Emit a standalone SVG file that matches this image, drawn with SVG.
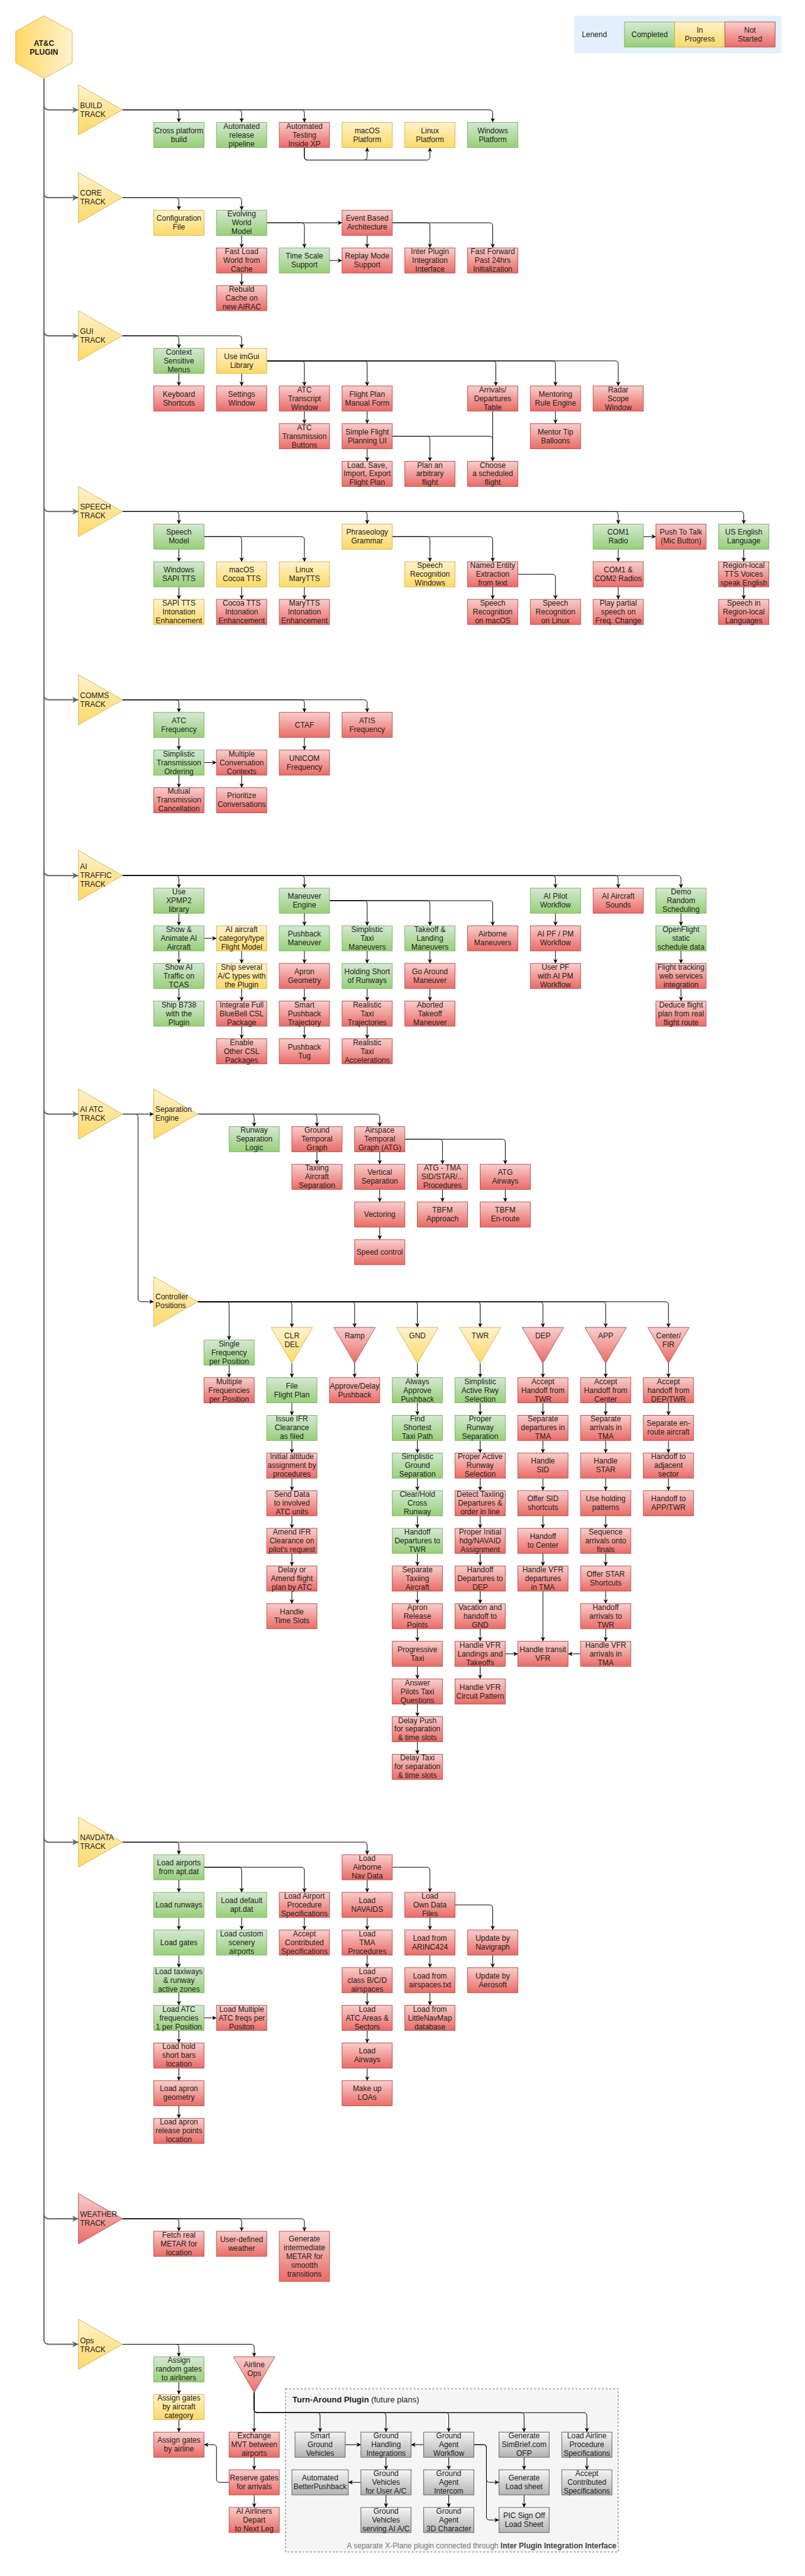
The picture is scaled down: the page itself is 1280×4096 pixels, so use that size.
<svg xmlns="http://www.w3.org/2000/svg" width="1280" height="4096" viewBox="0 0 1280 4096">
<defs>
<linearGradient id="gG" x1="0" y1="0" x2="0" y2="1"><stop offset="0" stop-color="#d5e8d4"/><stop offset="1" stop-color="#97d077"/></linearGradient>
<linearGradient id="gY" x1="0" y1="0" x2="0" y2="1"><stop offset="0" stop-color="#fff2cc"/><stop offset="1" stop-color="#ffd966"/></linearGradient>
<linearGradient id="gR" x1="0" y1="0" x2="0" y2="1"><stop offset="0" stop-color="#f8cecc"/><stop offset="1" stop-color="#ea6b66"/></linearGradient>
<linearGradient id="gK" x1="0" y1="0" x2="0" y2="1"><stop offset="0" stop-color="#f5f5f5"/><stop offset="1" stop-color="#b3b3b3"/></linearGradient>
<linearGradient id="gH" x1="0" y1="0" x2="1" y2="0"><stop offset="0" stop-color="#ffd966"/><stop offset="1" stop-color="#fff2cc"/></linearGradient>
<marker id="a" markerWidth="8" markerHeight="8" refX="7" refY="4" orient="auto" markerUnits="userSpaceOnUse" viewBox="0 0 8 8"><path d="M0,0.5 L7,4 L0,7.5 L2,4 z" fill="#000"/></marker>
<marker id="ag" markerWidth="11" markerHeight="10" refX="10" refY="5" orient="auto" markerUnits="userSpaceOnUse" viewBox="0 0 11 10"><path d="M0,0 L10,5 L0,10 L3,5 z" fill="#666"/></marker>
<style>
text{font-family:"Liberation Sans",Arial,Helvetica,sans-serif;font-size:12px;fill:#222;text-anchor:middle}
.l{text-anchor:start}
.b{font-weight:bold}
.g{fill:url(#gG);stroke:#82b366}
.y{fill:url(#gY);stroke:#d6b656}
.r{fill:url(#gR);stroke:#b85450}
.k{fill:url(#gK);stroke:#666}
.c path{fill:none;stroke:#000;stroke-width:1;marker-end:url(#a)}
.t path{fill:none;stroke:#666;stroke-width:2;marker-end:url(#ag)}
</style>
</defs>
<rect x="0" y="0" width="1280" height="4096" fill="#fff"/>
<g transform="scale(0.998)">

<g id="legend"><rect x="915" y="25" width="330" height="60" fill="#e3f0fb"/><text class="l" x="927" y="59">Lenend</text><rect class="g" x="995" y="35" width="80" height="40"/><text x="1035" y="59">Completed</text><rect class="y" x="1075" y="35" width="80" height="40"/><text x="1115" y="52">In<tspan x="1115" dy="14">Progress</tspan></text><rect class="r" x="1155" y="35" width="80" height="40"/><text x="1195" y="52">Not<tspan x="1195" dy="14">Started</tspan></text></g>

<g id="turnaround-container"><rect x="455" y="3806" width="530" height="260" fill="#f5f5f5" stroke="#666" stroke-dasharray="3,3"/><text class="l" x="466" y="3828" style="font-size:13px"><tspan class="b">Turn-Around Plugin</tspan> (future plans)</text><text x="982" y="4060" style="text-anchor:end;fill:#777">A separate X-Plane plugin connected through <tspan class="b" style="fill:#444">Inter Plugin Integration Interface</tspan></text></g>

<g id="trunk" class="t">
<path d="M70,125V3727Q70,3735 78,3735H125"/>
<path d="M70,167Q70,175 78,175H125"/>
<path d="M70,307Q70,315 78,315H125"/>
<path d="M70,527Q70,535 78,535H125"/>
<path d="M70,807Q70,815 78,815H125"/>
<path d="M70,1107Q70,1115 78,1115H125"/>
<path d="M70,1387Q70,1395 78,1395H125"/>
<path d="M70,1767Q70,1775 78,1775H125"/>
<path d="M70,2927Q70,2935 78,2935H125"/>
<path d="M70,3527Q70,3535 78,3535H125"/>
</g>

<g id="connectors" class="c">
<path d="M195,175H280Q285,175 285,180V195"/>
<path d="M195,175H380Q385,175 385,180V195"/>
<path d="M195,175H480Q485,175 485,180V195"/>
<path d="M195,175H780Q785,175 785,180V195"/>
<path d="M485,235V250Q485,255 490,255H580Q585,255 585,250V235"/>
<path d="M485,235V250Q485,255 490,255H680Q685,255 685,250V235"/>

<path d="M195,315H280Q285,315 285,320V335"/>
<path d="M195,315H380Q385,315 385,320V335"/>
<path d="M385,375V395"/>
<path d="M385,435V455"/>
<path d="M425,355H545"/>
<path d="M425,355H480Q485,355 485,360V395"/>
<path d="M525,415H545"/>
<path d="M585,375V395"/>
<path d="M625,355H680Q685,355 685,360V395"/>
<path d="M625,355H780Q785,355 785,360V395"/>

<path d="M195,535H280Q285,535 285,540V555"/>
<path d="M195,535H380Q385,535 385,540V555"/>
<path d="M285,595V615"/>
<path d="M385,595V615"/>
<path d="M425,575H480Q485,575 485,580V615"/>
<path d="M425,575H580Q585,575 585,580V615"/>
<path d="M425,575H785Q790,575 790,580V615"/>
<path d="M425,575H880Q885,575 885,580V615"/>
<path d="M425,575H980Q985,575 985,580V615"/>
<path d="M485,655V675"/>
<path d="M585,655V675"/>
<path d="M885,655V675"/>
<path d="M585,715V735"/>
<path d="M625,695H680Q685,695 685,700V735"/>
<path d="M625,695H780Q785,695 785,700V735"/>
<path d="M785,655V735"/>

<path d="M195,815H280Q285,815 285,820V835"/>
<path d="M195,815H580Q585,815 585,820V835"/>
<path d="M195,815H980Q985,815 985,820V835"/>
<path d="M195,815H1180Q1185,815 1185,820V835"/>
<path d="M285,875V895"/>
<path d="M285,935V955"/>
<path d="M325,855H380Q385,855 385,860V895"/>
<path d="M325,855H480Q485,855 485,860V895"/>
<path d="M385,935V955"/>
<path d="M485,935V955"/>
<path d="M625,855H680Q685,855 685,860V895"/>
<path d="M625,855H780Q785,855 785,860V895"/>
<path d="M785,935V955"/>
<path d="M825,915H880Q885,915 885,920V955"/>
<path d="M1025,855H1045"/>
<path d="M985,875V895"/>
<path d="M985,935V955"/>
<path d="M1185,875V895"/>
<path d="M1185,935V955"/>

<path d="M195,1115H280Q285,1115 285,1120V1135"/>
<path d="M195,1115H480Q485,1115 485,1120V1135"/>
<path d="M195,1115H580Q585,1115 585,1120V1135"/>
<path d="M285,1175V1195"/>
<path d="M285,1235V1255"/>
<path d="M325,1215H345"/>
<path d="M385,1235V1255"/>
<path d="M485,1175V1195"/>

<path d="M195,1395H280Q285,1395 285,1400V1415"/>
<path d="M195,1395H480Q485,1395 485,1400V1415"/>
<path d="M195,1395H880Q885,1395 885,1400V1415"/>
<path d="M195,1395H980Q985,1395 985,1400V1415"/>
<path d="M195,1395H1080Q1085,1395 1085,1400V1415"/>
<path d="M285,1455V1475"/><path d="M285,1515V1535"/><path d="M285,1575V1595"/>
<path d="M325,1495H345"/>
<path d="M385,1515V1535"/><path d="M385,1575V1595"/><path d="M385,1635V1655"/>
<path d="M485,1455V1475"/><path d="M485,1515V1535"/><path d="M485,1575V1595"/><path d="M485,1635V1655"/>
<path d="M525,1435H580Q585,1435 585,1440V1475"/>
<path d="M525,1435H680Q685,1435 685,1440V1475"/>
<path d="M525,1435H780Q785,1435 785,1440V1475"/>
<path d="M585,1515V1535"/><path d="M585,1575V1595"/><path d="M585,1635V1655"/>
<path d="M685,1515V1535"/><path d="M685,1575V1595"/>
<path d="M885,1455V1475"/><path d="M885,1515V1535"/>
<path d="M1085,1455V1475"/><path d="M1085,1515V1535"/><path d="M1085,1575V1595"/>

<path d="M195,1775H245"/>
<path d="M195,1775H215Q220,1775 220,1780V2069Q220,2074 225,2074H245"/>
<path d="M315,1775H400Q405,1775 405,1780V1795"/>
<path d="M315,1775H500Q505,1775 505,1780V1795"/>
<path d="M315,1775H600Q605,1775 605,1780V1795"/>
<path d="M505,1835V1855"/>
<path d="M605,1835V1855"/><path d="M605,1895V1915"/><path d="M605,1955V1975"/>
<path d="M645,1815H700Q705,1815 705,1820V1855"/>
<path d="M645,1815H800Q805,1815 805,1820V1855"/>
<path d="M705,1895V1915"/>
<path d="M805,1895V1915"/>

<path d="M315,2074H360Q365,2074 365,2079V2135"/>
<path d="M315,2074H460Q465,2074 465,2079V2115"/>
<path d="M315,2074H560Q565,2074 565,2079V2115"/>
<path d="M315,2074H660Q665,2074 665,2079V2115"/>
<path d="M315,2074H760Q765,2074 765,2079V2115"/>
<path d="M315,2074H860Q865,2074 865,2079V2115"/>
<path d="M315,2074H960Q965,2074 965,2079V2115"/>
<path d="M315,2074H1060Q1065,2074 1065,2079V2115"/>
<path d="M365,2175V2195"/>
<path d="M465,2172V2195"/><path d="M565,2172V2195"/><path d="M665,2172V2195"/><path d="M765,2172V2195"/><path d="M865,2172V2195"/><path d="M965,2172V2195"/><path d="M1065,2172V2195"/>
<path d="M465,2235V2255"/><path d="M465,2295V2315"/><path d="M465,2355V2375"/><path d="M465,2415V2435"/><path d="M465,2475V2495"/><path d="M465,2535V2555"/>
<path d="M665,2235V2255"/><path d="M665,2295V2315"/><path d="M665,2355V2375"/><path d="M665,2415V2435"/><path d="M665,2475V2495"/><path d="M665,2535V2555"/><path d="M665,2595V2615"/><path d="M665,2655V2675"/><path d="M665,2715V2735"/><path d="M665,2775V2795"/>
<path d="M765,2235V2255"/><path d="M765,2295V2315"/><path d="M765,2355V2375"/><path d="M765,2415V2435"/><path d="M765,2475V2495"/><path d="M765,2535V2555"/><path d="M765,2595V2615"/><path d="M765,2655V2675"/>
<path d="M865,2235V2255"/><path d="M865,2295V2315"/><path d="M865,2355V2375"/><path d="M865,2415V2435"/><path d="M865,2475V2495"/><path d="M865,2535V2615"/>
<path d="M965,2235V2255"/><path d="M965,2295V2315"/><path d="M965,2355V2375"/><path d="M965,2415V2435"/><path d="M965,2475V2495"/><path d="M965,2535V2555"/><path d="M965,2595V2615"/>
<path d="M1065,2235V2255"/><path d="M1065,2295V2315"/><path d="M1065,2355V2375"/>
<path d="M805,2635H825"/>
<path d="M925,2635H905"/>

<path d="M195,2935H280Q285,2935 285,2940V2955"/>
<path d="M195,2935H580Q585,2935 585,2940V2955"/>
<path d="M285,2995V3015"/><path d="M285,3055V3075"/><path d="M285,3115V3135"/><path d="M285,3175V3195"/><path d="M285,3235V3255"/><path d="M285,3295V3315"/><path d="M285,3355V3375"/>
<path d="M325,3215H345"/>
<path d="M325,2975H380Q385,2975 385,2980V3015"/>
<path d="M325,2975H480Q485,2975 485,2980V3015"/>
<path d="M385,3055V3075"/>
<path d="M485,3055V3075"/>
<path d="M585,2995V3015"/><path d="M585,3055V3075"/><path d="M585,3115V3135"/><path d="M585,3175V3195"/><path d="M585,3235V3255"/><path d="M585,3295V3315"/>
<path d="M625,2975H680Q685,2975 685,2980V3015"/>
<path d="M685,3055V3075"/><path d="M685,3115V3135"/><path d="M685,3175V3195"/>
<path d="M725,3035H780Q785,3035 785,3040V3075"/>
<path d="M785,3115V3135"/>

<path d="M195,3535H280Q285,3535 285,3540V3555"/>
<path d="M195,3535H380Q385,3535 385,3540V3555"/>
<path d="M195,3535H480Q485,3535 485,3540V3555"/>

<path d="M195,3735H280Q285,3735 285,3740V3755"/>
<path d="M195,3735H400Q405,3735 405,3740V3755"/>
<path d="M285,3795V3815"/><path d="M285,3855V3875"/>
<path d="M405,3812V3875"/>
<path d="M405,3915V3935"/><path d="M405,3975V3995"/>
<path d="M365,3955H350Q345,3955 345,3950V3900Q345,3895 340,3895H325"/>
<path d="M405,3812V3839Q405,3844 410,3844H505Q510,3844 510,3849V3875"/>
<path d="M405,3812V3839Q405,3844 410,3844H610Q615,3844 615,3849V3875"/>
<path d="M405,3812V3839Q405,3844 410,3844H710Q715,3844 715,3849V3875"/>
<path d="M405,3812V3839Q405,3844 410,3844H830Q835,3844 835,3849V3875"/>
<path d="M405,3812V3839Q405,3844 410,3844H930Q935,3844 935,3849V3875"/>
<path d="M550,3895H575"/>
<path d="M675,3895H655"/>
<path d="M615,3915V3935"/><path d="M615,3975V3995"/>
<path d="M575,3955H555"/>
<path d="M715,3915V3935"/><path d="M715,3975V3995"/>
<path d="M755,3895H770Q775,3895 775,3900V3950Q775,3955 780,3955H795"/>
<path d="M755,3895H770Q775,3895 775,3900V4010Q775,4015 780,4015H795"/>
<path d="M835,3915V3935"/><path d="M835,3975V3995"/>
<path d="M935,3915V3935"/>
</g>

<g id="n_plugin"><polygon points="70,25 115,50 115,100 70,125 25,100 25,50" fill="url(#gH)" stroke="#d6b656"/><text class="b" x="70" y="73">AT&amp;C<tspan x="70" dy="14">PLUGIN</tspan></text></g>

<g id="t_build"><polygon class="y" points="125,135 195,175 125,215"/><text class="l" x="127.5" y="172">BUILD<tspan x="127.5" dy="14">TRACK</tspan></text></g>
<g id="t_core"><polygon class="y" points="125,275 195,315 125,355"/><text class="l" x="127.5" y="312">CORE<tspan x="127.5" dy="14">TRACK</tspan></text></g>
<g id="t_gui"><polygon class="y" points="125,495 195,535 125,575"/><text class="l" x="127.5" y="532">GUI<tspan x="127.5" dy="14">TRACK</tspan></text></g>
<g id="t_speech"><polygon class="y" points="125,775 195,815 125,855"/><text class="l" x="127.5" y="812">SPEECH<tspan x="127.5" dy="14">TRACK</tspan></text></g>
<g id="t_comms"><polygon class="y" points="125,1075 195,1115 125,1155"/><text class="l" x="127.5" y="1112">COMMS<tspan x="127.5" dy="14">TRACK</tspan></text></g>
<g id="t_aitraffic"><polygon class="y" points="125,1355 195,1395 125,1435"/><text class="l" x="127.5" y="1385">AI<tspan x="127.5" dy="14">TRAFFIC</tspan><tspan x="127.5" dy="14">TRACK</tspan></text></g>
<g id="t_aiatc"><polygon class="y" points="125,1735 195,1775 125,1815"/><text class="l" x="127.5" y="1772">AI ATC<tspan x="127.5" dy="14">TRACK</tspan></text></g>
<g id="t_navdata"><polygon class="y" points="125,2895 195,2935 125,2975"/><text class="l" x="127.5" y="2932">NAVDATA<tspan x="127.5" dy="14">TRACK</tspan></text></g>
<g id="t_weather"><polygon class="r" points="125,3495 195,3535 125,3575"/><text class="l" x="127.5" y="3532">WEATHER<tspan x="127.5" dy="14">TRACK</tspan></text></g>
<g id="t_ops"><polygon class="y" points="125,3695 195,3735 125,3775"/><text class="l" x="127.5" y="3733">Ops<tspan x="127.5" dy="14">TRACK</tspan></text></g>
<g id="t_sepengine"><polygon class="y" points="245,1735 315,1775 245,1815"/><text class="l" x="247.5" y="1772">Separation<tspan x="247.5" dy="14">Engine</tspan></text></g>
<g id="t_ctrlpos"><polygon class="y" points="245,2034 315,2074 245,2114"/><text class="l" x="247.5" y="2070">Controller<tspan x="247.5" dy="14">Positions</tspan></text></g>

<g id="n_cross"><rect class="g" x="245" y="195" width="80" height="40"/><text x="285" y="212">Cross platform<tspan x="285" dy="14">build</tspan></text></g>
<g id="n_release"><rect class="g" x="345" y="195" width="80" height="40"/><text x="385" y="205">Automated<tspan x="385" dy="14">release</tspan><tspan x="385" dy="14">pipeline</tspan></text></g>
<g id="n_testing"><rect class="r" x="445" y="195" width="80" height="40"/><text x="485" y="205">Automated<tspan x="485" dy="14">Testing</tspan><tspan x="485" dy="14">Inside XP</tspan></text></g>
<g id="n_macos"><rect class="y" x="545" y="195" width="80" height="40"/><text x="585" y="212">macOS<tspan x="585" dy="14">Platform</tspan></text></g>
<g id="n_linux"><rect class="y" x="645" y="195" width="80" height="40"/><text x="685" y="212">Linux<tspan x="685" dy="14">Platform</tspan></text></g>
<g id="n_windows"><rect class="g" x="745" y="195" width="80" height="40"/><text x="785" y="212">Windows<tspan x="785" dy="14">Platform</tspan></text></g>

<g id="n_config"><rect class="y" x="245" y="335" width="80" height="40"/><text x="285" y="352">Configuration<tspan x="285" dy="14">File</tspan></text></g>
<g id="n_world"><rect class="g" x="345" y="335" width="80" height="40"/><text x="385" y="345">Evolving<tspan x="385" dy="14">World</tspan><tspan x="385" dy="14">Model</tspan></text></g>
<g id="n_fastload"><rect class="r" x="345" y="395" width="80" height="40"/><text x="385" y="405">Fast Load<tspan x="385" dy="14">World from</tspan><tspan x="385" dy="14">Cache</tspan></text></g>
<g id="n_rebuild"><rect class="r" x="345" y="455" width="80" height="40"/><text x="385" y="465">Rebuild<tspan x="385" dy="14">Cache on</tspan><tspan x="385" dy="14">new AIRAC</tspan></text></g>
<g id="n_timescale"><rect class="g" x="445" y="395" width="80" height="40"/><text x="485" y="412">Time Scale<tspan x="485" dy="14">Support</tspan></text></g>
<g id="n_event"><rect class="r" x="545" y="335" width="80" height="40"/><text x="585" y="352">Event Based<tspan x="585" dy="14">Architecture</tspan></text></g>
<g id="n_replay"><rect class="r" x="545" y="395" width="80" height="40"/><text x="585" y="412">Replay Mode<tspan x="585" dy="14">Support</tspan></text></g>
<g id="n_interplugin"><rect class="r" x="645" y="395" width="80" height="40"/><text x="685" y="405">Inter Plugin<tspan x="685" dy="14">Integration</tspan><tspan x="685" dy="14">Interface</tspan></text></g>
<g id="n_fastfwd"><rect class="r" x="745" y="395" width="80" height="40"/><text x="785" y="405">Fast Forward<tspan x="785" dy="14">Past 24hrs</tspan><tspan x="785" dy="14">Initialization</tspan></text></g>

<g id="n_context"><rect class="g" x="245" y="555" width="80" height="40"/><text x="285" y="565">Context<tspan x="285" dy="14">Sensitive</tspan><tspan x="285" dy="14">Menus</tspan></text></g>
<g id="n_imgui"><rect class="y" x="345" y="555" width="80" height="40"/><text x="385" y="572">Use imGui<tspan x="385" dy="14">Library</tspan></text></g>
<g id="n_keyboard"><rect class="r" x="245" y="615" width="80" height="40"/><text x="285" y="632">Keyboard<tspan x="285" dy="14">Shortcuts</tspan></text></g>
<g id="n_settings"><rect class="r" x="345" y="615" width="80" height="40"/><text x="385" y="632">Settings<tspan x="385" dy="14">Window</tspan></text></g>
<g id="n_transcript"><rect class="r" x="445" y="615" width="80" height="40"/><text x="485" y="625">ATC<tspan x="485" dy="14">Transcript</tspan><tspan x="485" dy="14">Window</tspan></text></g>
<g id="n_fpform"><rect class="r" x="545" y="615" width="80" height="40"/><text x="585" y="632">Flight Plan<tspan x="585" dy="14">Manual Form</tspan></text></g>
<g id="n_arrdep"><rect class="r" x="745" y="615" width="80" height="40"/><text x="785" y="625">Arrivals/<tspan x="785" dy="14">Departures</tspan><tspan x="785" dy="14">Table</tspan></text></g>
<g id="n_mentoring"><rect class="r" x="845" y="615" width="80" height="40"/><text x="885" y="632">Mentoring<tspan x="885" dy="14">Rule Engine</tspan></text></g>
<g id="n_radar"><rect class="r" x="945" y="615" width="80" height="40"/><text x="985" y="625">Radar<tspan x="985" dy="14">Scope</tspan><tspan x="985" dy="14">Window</tspan></text></g>
<g id="n_txbuttons"><rect class="r" x="445" y="675" width="80" height="40"/><text x="485" y="685">ATC<tspan x="485" dy="14">Transmission</tspan><tspan x="485" dy="14">Buttons</tspan></text></g>
<g id="n_simplefp"><rect class="r" x="545" y="675" width="80" height="40"/><text x="585" y="692">Simple Flight<tspan x="585" dy="14">Planning UI</tspan></text></g>
<g id="n_mentortip"><rect class="r" x="845" y="675" width="80" height="40"/><text x="885" y="692">Mentor Tip<tspan x="885" dy="14">Balloons</tspan></text></g>
<g id="n_loadsave"><rect class="r" x="545" y="735" width="80" height="40"/><text x="585" y="745">Load, Save,<tspan x="585" dy="14">Import, Export</tspan><tspan x="585" dy="14">Flight Plan</tspan></text></g>
<g id="n_arbitrary"><rect class="r" x="645" y="735" width="80" height="40"/><text x="685" y="745">Plan an<tspan x="685" dy="14">arbitrary</tspan><tspan x="685" dy="14">flight</tspan></text></g>
<g id="n_scheduled"><rect class="r" x="745" y="735" width="80" height="40"/><text x="785" y="745">Choose<tspan x="785" dy="14">a scheduled</tspan><tspan x="785" dy="14">flight</tspan></text></g>

<g id="n_speechmodel"><rect class="g" x="245" y="835" width="80" height="40"/><text x="285" y="852">Speech<tspan x="285" dy="14">Model</tspan></text></g>
<g id="n_sapi"><rect class="g" x="245" y="895" width="80" height="40"/><text x="285" y="912">Windows<tspan x="285" dy="14">SAPI TTS</tspan></text></g>
<g id="n_sapiint"><rect class="y" x="245" y="955" width="80" height="40"/><text x="285" y="965">SAPI TTS<tspan x="285" dy="14">Intonation</tspan><tspan x="285" dy="14">Enhancement</tspan></text></g>
<g id="n_cocoa"><rect class="y" x="345" y="895" width="80" height="40"/><text x="385" y="912">macOS<tspan x="385" dy="14">Cocoa TTS</tspan></text></g>
<g id="n_cocoaint"><rect class="r" x="345" y="955" width="80" height="40"/><text x="385" y="965">Cocoa TTS<tspan x="385" dy="14">Intonation</tspan><tspan x="385" dy="14">Enhancement</tspan></text></g>
<g id="n_mary"><rect class="y" x="445" y="895" width="80" height="40"/><text x="485" y="912">Linux<tspan x="485" dy="14">MaryTTS</tspan></text></g>
<g id="n_maryint"><rect class="r" x="445" y="955" width="80" height="40"/><text x="485" y="965">MaryTTS<tspan x="485" dy="14">Intonation</tspan><tspan x="485" dy="14">Enhancement</tspan></text></g>
<g id="n_phraseology"><rect class="y" x="545" y="835" width="80" height="40"/><text x="585" y="852">Phraseology<tspan x="585" dy="14">Grammar</tspan></text></g>
<g id="n_srwin"><rect class="y" x="645" y="895" width="80" height="40"/><text x="685" y="905">Speech<tspan x="685" dy="14">Recognition</tspan><tspan x="685" dy="14">Windows</tspan></text></g>
<g id="n_ner"><rect class="r" x="745" y="895" width="80" height="40"/><text x="785" y="905">Named Entity<tspan x="785" dy="14">Extraction</tspan><tspan x="785" dy="14">from text</tspan></text></g>
<g id="n_srmac"><rect class="r" x="745" y="955" width="80" height="40"/><text x="785" y="965">Speech<tspan x="785" dy="14">Recognition</tspan><tspan x="785" dy="14">on macOS</tspan></text></g>
<g id="n_srlinux"><rect class="r" x="845" y="955" width="80" height="40"/><text x="885" y="965">Speech<tspan x="885" dy="14">Recognition</tspan><tspan x="885" dy="14">on Linux</tspan></text></g>
<g id="n_com1"><rect class="g" x="945" y="835" width="80" height="40"/><text x="985" y="852">COM1<tspan x="985" dy="14">Radio</tspan></text></g>
<g id="n_ptt"><rect class="r" x="1045" y="835" width="80" height="40"/><text x="1085" y="852">Push To Talk<tspan x="1085" dy="14">(Mic Button)</tspan></text></g>
<g id="n_com12"><rect class="r" x="945" y="895" width="80" height="40"/><text x="985" y="912">COM1 &amp;<tspan x="985" dy="14">COM2 Radios</tspan></text></g>
<g id="n_partial"><rect class="r" x="945" y="955" width="80" height="40"/><text x="985" y="965">Play partial<tspan x="985" dy="14">speech on</tspan><tspan x="985" dy="14">Freq. Change</tspan></text></g>
<g id="n_usenglish"><rect class="g" x="1145" y="835" width="80" height="40"/><text x="1185" y="852">US English<tspan x="1185" dy="14">Language</tspan></text></g>
<g id="n_regionvoices"><rect class="r" x="1145" y="895" width="80" height="40"/><text x="1185" y="905">Region-local<tspan x="1185" dy="14">TTS Voices</tspan><tspan x="1185" dy="14">speak English</tspan></text></g>
<g id="n_regionlang"><rect class="r" x="1145" y="955" width="80" height="40"/><text x="1185" y="965">Speech in<tspan x="1185" dy="14">Region-local</tspan><tspan x="1185" dy="14">Languages</tspan></text></g>

<g id="n_atcfreq"><rect class="g" x="245" y="1135" width="80" height="40"/><text x="285" y="1152">ATC<tspan x="285" dy="14">Frequency</tspan></text></g>
<g id="n_simpletx"><rect class="g" x="245" y="1195" width="80" height="40"/><text x="285" y="1205">Simplistic<tspan x="285" dy="14">Transmission</tspan><tspan x="285" dy="14">Ordering</tspan></text></g>
<g id="n_mutual"><rect class="r" x="245" y="1255" width="80" height="40"/><text x="285" y="1265">Mutual<tspan x="285" dy="14">Transmission</tspan><tspan x="285" dy="14">Cancellation</tspan></text></g>
<g id="n_multiconv"><rect class="r" x="345" y="1195" width="80" height="40"/><text x="385" y="1205">Multiple<tspan x="385" dy="14">Conversation</tspan><tspan x="385" dy="14">Contexts</tspan></text></g>
<g id="n_prioritize"><rect class="r" x="345" y="1255" width="80" height="40"/><text x="385" y="1272">Prioritize<tspan x="385" dy="14">Conversations</tspan></text></g>
<g id="n_ctaf"><rect class="r" x="445" y="1135" width="80" height="40"/><text x="485" y="1159">CTAF</text></g>
<g id="n_unicom"><rect class="r" x="445" y="1195" width="80" height="40"/><text x="485" y="1212">UNICOM<tspan x="485" dy="14">Frequency</tspan></text></g>
<g id="n_atis"><rect class="r" x="545" y="1135" width="80" height="40"/><text x="585" y="1152">ATIS<tspan x="585" dy="14">Frequency</tspan></text></g>

<g id="n_xpmp"><rect class="g" x="245" y="1415" width="80" height="40"/><text x="285" y="1425">Use<tspan x="285" dy="14">XPMP2</tspan><tspan x="285" dy="14">library</tspan></text></g>
<g id="n_animate"><rect class="g" x="245" y="1475" width="80" height="40"/><text x="285" y="1485">Show &amp;<tspan x="285" dy="14">Animate AI</tspan><tspan x="285" dy="14">Aircraft</tspan></text></g>
<g id="n_tcas"><rect class="g" x="245" y="1535" width="80" height="40"/><text x="285" y="1545">Show AI<tspan x="285" dy="14">Traffic on</tspan><tspan x="285" dy="14">TCAS</tspan></text></g>
<g id="n_b738"><rect class="g" x="245" y="1595" width="80" height="40"/><text x="285" y="1605">Ship B738<tspan x="285" dy="14">with the</tspan><tspan x="285" dy="14">Plugin</tspan></text></g>
<g id="n_acmodel"><rect class="y" x="345" y="1475" width="80" height="40"/><text x="385" y="1485">AI aircraft<tspan x="385" dy="14">category/type</tspan><tspan x="385" dy="14">Flight Model</tspan></text></g>
<g id="n_shipseveral"><rect class="y" x="345" y="1535" width="80" height="40"/><text x="385" y="1545">Ship several<tspan x="385" dy="14">A/C types with</tspan><tspan x="385" dy="14">the Plugin</tspan></text></g>
<g id="n_bluebell"><rect class="r" x="345" y="1595" width="80" height="40"/><text x="385" y="1605">Integrate Full<tspan x="385" dy="14">BlueBell CSL</tspan><tspan x="385" dy="14">Package</tspan></text></g>
<g id="n_othercsl"><rect class="r" x="345" y="1655" width="80" height="40"/><text x="385" y="1665">Enable<tspan x="385" dy="14">Other CSL</tspan><tspan x="385" dy="14">Packages</tspan></text></g>
<g id="n_maneuver"><rect class="g" x="445" y="1415" width="80" height="40"/><text x="485" y="1432">Maneuver<tspan x="485" dy="14">Engine</tspan></text></g>
<g id="n_pushback"><rect class="g" x="445" y="1475" width="80" height="40"/><text x="485" y="1492">Pushback<tspan x="485" dy="14">Maneuver</tspan></text></g>
<g id="n_apron"><rect class="r" x="445" y="1535" width="80" height="40"/><text x="485" y="1552">Apron<tspan x="485" dy="14">Geometry</tspan></text></g>
<g id="n_smartpush"><rect class="r" x="445" y="1595" width="80" height="40"/><text x="485" y="1605">Smart<tspan x="485" dy="14">Pushback</tspan><tspan x="485" dy="14">Trajectory</tspan></text></g>
<g id="n_tug"><rect class="r" x="445" y="1655" width="80" height="40"/><text x="485" y="1672">Pushback<tspan x="485" dy="14">Tug</tspan></text></g>
<g id="n_taxi"><rect class="g" x="545" y="1475" width="80" height="40"/><text x="585" y="1485">Simplistic<tspan x="585" dy="14">Taxi</tspan><tspan x="585" dy="14">Maneuvers</tspan></text></g>
<g id="n_holdshort"><rect class="g" x="545" y="1535" width="80" height="40"/><text x="585" y="1552">Holding Short<tspan x="585" dy="14">of Runways</tspan></text></g>
<g id="n_taxitraj"><rect class="r" x="545" y="1595" width="80" height="40"/><text x="585" y="1605">Realistic<tspan x="585" dy="14">Taxi</tspan><tspan x="585" dy="14">Trajectories</tspan></text></g>
<g id="n_taxiacc"><rect class="r" x="545" y="1655" width="80" height="40"/><text x="585" y="1665">Realistic<tspan x="585" dy="14">Taxi</tspan><tspan x="585" dy="14">Accelerations</tspan></text></g>
<g id="n_tol"><rect class="g" x="645" y="1475" width="80" height="40"/><text x="685" y="1485">Takeoff &amp;<tspan x="685" dy="14">Landing</tspan><tspan x="685" dy="14">Maneuvers</tspan></text></g>
<g id="n_goaround"><rect class="r" x="645" y="1535" width="80" height="40"/><text x="685" y="1552">Go Around<tspan x="685" dy="14">Maneuver</tspan></text></g>
<g id="n_rto"><rect class="r" x="645" y="1595" width="80" height="40"/><text x="685" y="1605">Aborted<tspan x="685" dy="14">Takeoff</tspan><tspan x="685" dy="14">Maneuver</tspan></text></g>
<g id="n_airborne"><rect class="r" x="745" y="1475" width="80" height="40"/><text x="785" y="1492">Airborne<tspan x="785" dy="14">Maneuvers</tspan></text></g>
<g id="n_aipilot"><rect class="g" x="845" y="1415" width="80" height="40"/><text x="885" y="1432">AI Pilot<tspan x="885" dy="14">Workflow</tspan></text></g>
<g id="n_pfpm"><rect class="r" x="845" y="1475" width="80" height="40"/><text x="885" y="1492">AI PF / PM<tspan x="885" dy="14">Workflow</tspan></text></g>
<g id="n_userpf"><rect class="r" x="845" y="1535" width="80" height="40"/><text x="885" y="1545">User PF<tspan x="885" dy="14">with AI PM</tspan><tspan x="885" dy="14">Workflow</tspan></text></g>
<g id="n_sounds"><rect class="r" x="945" y="1415" width="80" height="40"/><text x="985" y="1432">AI Aircraft<tspan x="985" dy="14">Sounds</tspan></text></g>
<g id="n_demo"><rect class="g" x="1045" y="1415" width="80" height="40"/><text x="1085" y="1425">Demo<tspan x="1085" dy="14">Random</tspan><tspan x="1085" dy="14">Scheduling</tspan></text></g>
<g id="n_openflight"><rect class="g" x="1045" y="1475" width="80" height="40"/><text x="1085" y="1485">OpenFlight<tspan x="1085" dy="14">static</tspan><tspan x="1085" dy="14">schedule data</tspan></text></g>
<g id="n_tracking"><rect class="r" x="1045" y="1535" width="80" height="40"/><text x="1085" y="1545">Flight tracking<tspan x="1085" dy="14">web services</tspan><tspan x="1085" dy="14">integration</tspan></text></g>
<g id="n_deduce"><rect class="r" x="1045" y="1595" width="80" height="40"/><text x="1085" y="1605">Deduce flight<tspan x="1085" dy="14">plan from real</tspan><tspan x="1085" dy="14">flight route</tspan></text></g>

<g id="n_rwysep"><rect class="g" x="365" y="1795" width="80" height="40"/><text x="405" y="1805">Runway<tspan x="405" dy="14">Separation</tspan><tspan x="405" dy="14">Logic</tspan></text></g>
<g id="n_gtg"><rect class="r" x="465" y="1795" width="80" height="40"/><text x="505" y="1805">Ground<tspan x="505" dy="14">Temporal</tspan><tspan x="505" dy="14">Graph</tspan></text></g>
<g id="n_taxisep"><rect class="r" x="465" y="1855" width="80" height="40"/><text x="505" y="1865">Taxiing<tspan x="505" dy="14">Aircraft</tspan><tspan x="505" dy="14">Separation</tspan></text></g>
<g id="n_atg"><rect class="r" x="565" y="1795" width="80" height="40"/><text x="605" y="1805">Airspace<tspan x="605" dy="14">Temporal</tspan><tspan x="605" dy="14">Graph (ATG)</tspan></text></g>
<g id="n_vertsep"><rect class="r" x="565" y="1855" width="80" height="40"/><text x="605" y="1872">Vertical<tspan x="605" dy="14">Separation</tspan></text></g>
<g id="n_vectoring"><rect class="r" x="565" y="1915" width="80" height="40"/><text x="605" y="1939">Vectoring</text></g>
<g id="n_speed"><rect class="r" x="565" y="1975" width="80" height="40"/><text x="605" y="1999">Speed control</text></g>
<g id="n_atgtma"><rect class="r" x="665" y="1855" width="80" height="40"/><text x="705" y="1865">ATG - TMA<tspan x="705" dy="14">SID/STAR/...</tspan><tspan x="705" dy="14">Procedures</tspan></text></g>
<g id="n_atgawy"><rect class="r" x="765" y="1855" width="80" height="40"/><text x="805" y="1872">ATG<tspan x="805" dy="14">Airways</tspan></text></g>
<g id="n_tbfmapp"><rect class="r" x="665" y="1915" width="80" height="40"/><text x="705" y="1932">TBFM<tspan x="705" dy="14">Approach</tspan></text></g>
<g id="n_tbfmenr"><rect class="r" x="765" y="1915" width="80" height="40"/><text x="805" y="1932">TBFM<tspan x="805" dy="14">En-route</tspan></text></g>

<g id="n_singlefreq"><rect class="g" x="325" y="2135" width="80" height="40"/><text x="365" y="2145">Single<tspan x="365" dy="14">Frequency</tspan><tspan x="365" dy="14">per Position</tspan></text></g>
<g id="n_multifreq"><rect class="r" x="325" y="2195" width="80" height="40"/><text x="365" y="2205">Multiple<tspan x="365" dy="14">Frequencies</tspan><tspan x="365" dy="14">per Position</tspan></text></g>
<g id="p_clrdel"><polygon class="y" points="432,2115 498,2115 465,2172"/><text x="465" y="2132">CLR<tspan x="465" dy="14">DEL</tspan></text></g>
<g id="p_ramp"><polygon class="r" points="532,2115 598,2115 565,2172"/><text x="565" y="2132">Ramp</text></g>
<g id="p_gnd"><polygon class="y" points="632,2115 698,2115 665,2172"/><text x="665" y="2132">GND</text></g>
<g id="p_twr"><polygon class="y" points="732,2115 798,2115 765,2172"/><text x="765" y="2132">TWR</text></g>
<g id="p_dep"><polygon class="r" points="832,2115 898,2115 865,2172"/><text x="865" y="2132">DEP</text></g>
<g id="p_app"><polygon class="r" points="932,2115 998,2115 965,2172"/><text x="965" y="2132">APP</text></g>
<g id="p_center"><polygon class="r" points="1032,2115 1098,2115 1065,2172"/><text x="1065" y="2132">Center/<tspan x="1065" dy="14">FIR</tspan></text></g>

<g id="n_clr1"><rect class="g" x="425" y="2195" width="80" height="40"/><text x="465" y="2212">File<tspan x="465" dy="14">Flight Plan</tspan></text></g>
<g id="n_clr2"><rect class="g" x="425" y="2255" width="80" height="40"/><text x="465" y="2265">Issue IFR<tspan x="465" dy="14">Clearance</tspan><tspan x="465" dy="14">as filed</tspan></text></g>
<g id="n_clr3"><rect class="r" x="425" y="2315" width="80" height="40"/><text x="465" y="2325">Initial altitude<tspan x="465" dy="14">assignment by</tspan><tspan x="465" dy="14">procedures</tspan></text></g>
<g id="n_clr4"><rect class="r" x="425" y="2375" width="80" height="40"/><text x="465" y="2385">Send Data<tspan x="465" dy="14">to involved</tspan><tspan x="465" dy="14">ATC units</tspan></text></g>
<g id="n_clr5"><rect class="r" x="425" y="2435" width="80" height="40"/><text x="465" y="2445">Amend IFR<tspan x="465" dy="14">Clearance on</tspan><tspan x="465" dy="14">pilot's request</tspan></text></g>
<g id="n_clr6"><rect class="r" x="425" y="2495" width="80" height="40"/><text x="465" y="2505">Delay or<tspan x="465" dy="14">Amend flight</tspan><tspan x="465" dy="14">plan by ATC</tspan></text></g>
<g id="n_clr7"><rect class="r" x="425" y="2555" width="80" height="40"/><text x="465" y="2572">Handle<tspan x="465" dy="14">Time Slots</tspan></text></g>
<g id="n_ramp1"><rect class="r" x="525" y="2195" width="80" height="40"/><text x="565" y="2212">Approve/Delay<tspan x="565" dy="14">Pushback</tspan></text></g>

<g id="n_gnd1"><rect class="g" x="625" y="2195" width="80" height="40"/><text x="665" y="2205">Always<tspan x="665" dy="14">Approve</tspan><tspan x="665" dy="14">Pushback</tspan></text></g>
<g id="n_gnd2"><rect class="g" x="625" y="2255" width="80" height="40"/><text x="665" y="2265">Find<tspan x="665" dy="14">Shortest</tspan><tspan x="665" dy="14">Taxi Path</tspan></text></g>
<g id="n_gnd3"><rect class="g" x="625" y="2315" width="80" height="40"/><text x="665" y="2325">Simplistic<tspan x="665" dy="14">Ground</tspan><tspan x="665" dy="14">Separation</tspan></text></g>
<g id="n_gnd4"><rect class="g" x="625" y="2375" width="80" height="40"/><text x="665" y="2385">Clear/Hold<tspan x="665" dy="14">Cross</tspan><tspan x="665" dy="14">Runway</tspan></text></g>
<g id="n_gnd5"><rect class="g" x="625" y="2435" width="80" height="40"/><text x="665" y="2445">Handoff<tspan x="665" dy="14">Departures to</tspan><tspan x="665" dy="14">TWR</tspan></text></g>
<g id="n_gnd6"><rect class="r" x="625" y="2495" width="80" height="40"/><text x="665" y="2505">Separate<tspan x="665" dy="14">Taxiing</tspan><tspan x="665" dy="14">Aircraft</tspan></text></g>
<g id="n_gnd7"><rect class="r" x="625" y="2555" width="80" height="40"/><text x="665" y="2565">Apron<tspan x="665" dy="14">Release</tspan><tspan x="665" dy="14">Points</tspan></text></g>
<g id="n_gnd8"><rect class="r" x="625" y="2615" width="80" height="40"/><text x="665" y="2632">Progressive<tspan x="665" dy="14">Taxi</tspan></text></g>
<g id="n_gnd9"><rect class="r" x="625" y="2675" width="80" height="40"/><text x="665" y="2685">Answer<tspan x="665" dy="14">Pilots Taxi</tspan><tspan x="665" dy="14">Questions</tspan></text></g>
<g id="n_gnd10"><rect class="r" x="625" y="2735" width="80" height="40"/><text x="665" y="2745">Delay Push<tspan x="665" dy="14">for separation</tspan><tspan x="665" dy="14">&amp; time slots</tspan></text></g>
<g id="n_gnd11"><rect class="r" x="625" y="2795" width="80" height="40"/><text x="665" y="2805">Delay Taxi<tspan x="665" dy="14">for separation</tspan><tspan x="665" dy="14">&amp; time slots</tspan></text></g>

<g id="n_twr1"><rect class="g" x="725" y="2195" width="80" height="40"/><text x="765" y="2205">Simplistic<tspan x="765" dy="14">Active Rwy</tspan><tspan x="765" dy="14">Selection</tspan></text></g>
<g id="n_twr2"><rect class="g" x="725" y="2255" width="80" height="40"/><text x="765" y="2265">Proper<tspan x="765" dy="14">Runway</tspan><tspan x="765" dy="14">Separation</tspan></text></g>
<g id="n_twr3"><rect class="r" x="725" y="2315" width="80" height="40"/><text x="765" y="2325">Proper Active<tspan x="765" dy="14">Runway</tspan><tspan x="765" dy="14">Selection</tspan></text></g>
<g id="n_twr4"><rect class="r" x="725" y="2375" width="80" height="40"/><text x="765" y="2385">Detect Taxiing<tspan x="765" dy="14">Departures &amp;</tspan><tspan x="765" dy="14">order in line</tspan></text></g>
<g id="n_twr5"><rect class="r" x="725" y="2435" width="80" height="40"/><text x="765" y="2445">Proper Initial<tspan x="765" dy="14">hdg/NAVAID</tspan><tspan x="765" dy="14">Assignment</tspan></text></g>
<g id="n_twr6"><rect class="r" x="725" y="2495" width="80" height="40"/><text x="765" y="2505">Handoff<tspan x="765" dy="14">Departures to</tspan><tspan x="765" dy="14">DEP</tspan></text></g>
<g id="n_twr7"><rect class="r" x="725" y="2555" width="80" height="40"/><text x="765" y="2565">Vacation and<tspan x="765" dy="14">handoff to</tspan><tspan x="765" dy="14">GND</tspan></text></g>
<g id="n_twr8"><rect class="r" x="725" y="2615" width="80" height="40"/><text x="765" y="2625">Handle VFR<tspan x="765" dy="14">Landings and</tspan><tspan x="765" dy="14">Takeoffs</tspan></text></g>
<g id="n_twr9"><rect class="r" x="725" y="2675" width="80" height="40"/><text x="765" y="2692">Handle VFR<tspan x="765" dy="14">Circuit Pattern</tspan></text></g>

<g id="n_dep1"><rect class="r" x="825" y="2195" width="80" height="40"/><text x="865" y="2205">Accept<tspan x="865" dy="14">Handoff from</tspan><tspan x="865" dy="14">TWR</tspan></text></g>
<g id="n_dep2"><rect class="r" x="825" y="2255" width="80" height="40"/><text x="865" y="2265">Separate<tspan x="865" dy="14">departures in</tspan><tspan x="865" dy="14">TMA</tspan></text></g>
<g id="n_dep3"><rect class="r" x="825" y="2315" width="80" height="40"/><text x="865" y="2332">Handle<tspan x="865" dy="14">SID</tspan></text></g>
<g id="n_dep4"><rect class="r" x="825" y="2375" width="80" height="40"/><text x="865" y="2392">Offer SID<tspan x="865" dy="14">shortcuts</tspan></text></g>
<g id="n_dep5"><rect class="r" x="825" y="2435" width="80" height="40"/><text x="865" y="2452">Handoff<tspan x="865" dy="14">to Center</tspan></text></g>
<g id="n_dep6"><rect class="r" x="825" y="2495" width="80" height="40"/><text x="865" y="2505">Handle VFR<tspan x="865" dy="14">departures</tspan><tspan x="865" dy="14">in TMA</tspan></text></g>
<g id="n_transitvfr"><rect class="r" x="825" y="2615" width="80" height="40"/><text x="865" y="2632">Handle transit<tspan x="865" dy="14">VFR</tspan></text></g>

<g id="n_app1"><rect class="r" x="925" y="2195" width="80" height="40"/><text x="965" y="2205">Accept<tspan x="965" dy="14">Handoff from</tspan><tspan x="965" dy="14">Center</tspan></text></g>
<g id="n_app2"><rect class="r" x="925" y="2255" width="80" height="40"/><text x="965" y="2265">Separate<tspan x="965" dy="14">arrivals in</tspan><tspan x="965" dy="14">TMA</tspan></text></g>
<g id="n_app3"><rect class="r" x="925" y="2315" width="80" height="40"/><text x="965" y="2332">Handle<tspan x="965" dy="14">STAR</tspan></text></g>
<g id="n_app4"><rect class="r" x="925" y="2375" width="80" height="40"/><text x="965" y="2392">Use holding<tspan x="965" dy="14">patterns</tspan></text></g>
<g id="n_app5"><rect class="r" x="925" y="2435" width="80" height="40"/><text x="965" y="2445">Sequence<tspan x="965" dy="14">arrivals onto</tspan><tspan x="965" dy="14">finals</tspan></text></g>
<g id="n_app6"><rect class="r" x="925" y="2495" width="80" height="40"/><text x="965" y="2512">Offer STAR<tspan x="965" dy="14">Shortcuts</tspan></text></g>
<g id="n_app7"><rect class="r" x="925" y="2555" width="80" height="40"/><text x="965" y="2565">Handoff<tspan x="965" dy="14">arrivals to</tspan><tspan x="965" dy="14">TWR</tspan></text></g>
<g id="n_app8"><rect class="r" x="925" y="2615" width="80" height="40"/><text x="965" y="2625">Handle VFR<tspan x="965" dy="14">arrivals in</tspan><tspan x="965" dy="14">TMA</tspan></text></g>

<g id="n_ctr1"><rect class="r" x="1025" y="2195" width="80" height="40"/><text x="1065" y="2205">Accept<tspan x="1065" dy="14">handoff from</tspan><tspan x="1065" dy="14">DEP/TWR</tspan></text></g>
<g id="n_ctr2"><rect class="r" x="1025" y="2255" width="80" height="40"/><text x="1065" y="2272">Separate en-<tspan x="1065" dy="14">route aircraft</tspan></text></g>
<g id="n_ctr3"><rect class="r" x="1025" y="2315" width="80" height="40"/><text x="1065" y="2325">Handoff to<tspan x="1065" dy="14">adjacent</tspan><tspan x="1065" dy="14">sector</tspan></text></g>
<g id="n_ctr4"><rect class="r" x="1025" y="2375" width="80" height="40"/><text x="1065" y="2392">Handoff to<tspan x="1065" dy="14">APP/TWR</tspan></text></g>

<g id="n_nav1"><rect class="g" x="245" y="2955" width="80" height="40"/><text x="285" y="2972">Load airports<tspan x="285" dy="14">from apt.dat</tspan></text></g>
<g id="n_nav2"><rect class="g" x="245" y="3015" width="80" height="40"/><text x="285" y="3039">Load runways</text></g>
<g id="n_nav3"><rect class="g" x="245" y="3075" width="80" height="40"/><text x="285" y="3099">Load gates</text></g>
<g id="n_nav4"><rect class="g" x="245" y="3135" width="80" height="40"/><text x="285" y="3145">Load taxiways<tspan x="285" dy="14">&amp; runway</tspan><tspan x="285" dy="14">active zones</tspan></text></g>
<g id="n_nav5"><rect class="g" x="245" y="3195" width="80" height="40"/><text x="285" y="3205">Load ATC<tspan x="285" dy="14">frequencies</tspan><tspan x="285" dy="14">1 per Position</tspan></text></g>
<g id="n_nav6"><rect class="r" x="245" y="3255" width="80" height="40"/><text x="285" y="3265">Load hold<tspan x="285" dy="14">short bars</tspan><tspan x="285" dy="14">location</tspan></text></g>
<g id="n_nav7"><rect class="r" x="245" y="3315" width="80" height="40"/><text x="285" y="3332">Load apron<tspan x="285" dy="14">geometry</tspan></text></g>
<g id="n_nav8"><rect class="r" x="245" y="3375" width="80" height="40"/><text x="285" y="3385">Load apron<tspan x="285" dy="14">release points</tspan><tspan x="285" dy="14">location</tspan></text></g>
<g id="n_navmulti"><rect class="r" x="345" y="3195" width="80" height="40"/><text x="385" y="3205">Load Multiple<tspan x="385" dy="14">ATC freqs per</tspan><tspan x="385" dy="14">Positon</tspan></text></g>
<g id="n_navdefault"><rect class="g" x="345" y="3015" width="80" height="40"/><text x="385" y="3032">Load default<tspan x="385" dy="14">apt.dat</tspan></text></g>
<g id="n_navcustom"><rect class="g" x="345" y="3075" width="80" height="40"/><text x="385" y="3085">Load custom<tspan x="385" dy="14">scenery</tspan><tspan x="385" dy="14">airports</tspan></text></g>
<g id="n_navproc"><rect class="r" x="445" y="3015" width="80" height="40"/><text x="485" y="3025">Load Airport<tspan x="485" dy="14">Procedure</tspan><tspan x="485" dy="14">Specifications</tspan></text></g>
<g id="n_navcontrib"><rect class="r" x="445" y="3075" width="80" height="40"/><text x="485" y="3085">Accept<tspan x="485" dy="14">Contributed</tspan><tspan x="485" dy="14">Specifications</tspan></text></g>
<g id="n_air1"><rect class="r" x="545" y="2955" width="80" height="40"/><text x="585" y="2965">Load<tspan x="585" dy="14">Airborne</tspan><tspan x="585" dy="14">Nav Data</tspan></text></g>
<g id="n_air2"><rect class="r" x="545" y="3015" width="80" height="40"/><text x="585" y="3032">Load<tspan x="585" dy="14">NAVAIDS</tspan></text></g>
<g id="n_air3"><rect class="r" x="545" y="3075" width="80" height="40"/><text x="585" y="3085">Load<tspan x="585" dy="14">TMA</tspan><tspan x="585" dy="14">Procedures</tspan></text></g>
<g id="n_air4"><rect class="r" x="545" y="3135" width="80" height="40"/><text x="585" y="3145">Load<tspan x="585" dy="14">class B/C/D</tspan><tspan x="585" dy="14">airspaces</tspan></text></g>
<g id="n_air5"><rect class="r" x="545" y="3195" width="80" height="40"/><text x="585" y="3205">Load<tspan x="585" dy="14">ATC Areas &amp;</tspan><tspan x="585" dy="14">Sectors</tspan></text></g>
<g id="n_air6"><rect class="r" x="545" y="3255" width="80" height="40"/><text x="585" y="3272">Load<tspan x="585" dy="14">Airways</tspan></text></g>
<g id="n_air7"><rect class="r" x="545" y="3315" width="80" height="40"/><text x="585" y="3332">Make up<tspan x="585" dy="14">LOAs</tspan></text></g>
<g id="n_own1"><rect class="r" x="645" y="3015" width="80" height="40"/><text x="685" y="3025">Load<tspan x="685" dy="14">Own Data</tspan><tspan x="685" dy="14">Files</tspan></text></g>
<g id="n_own2"><rect class="r" x="645" y="3075" width="80" height="40"/><text x="685" y="3092">Load from<tspan x="685" dy="14">ARINC424</tspan></text></g>
<g id="n_own3"><rect class="r" x="645" y="3135" width="80" height="40"/><text x="685" y="3152">Load from<tspan x="685" dy="14">airspaces.txt</tspan></text></g>
<g id="n_own4"><rect class="r" x="645" y="3195" width="80" height="40"/><text x="685" y="3205">Load from<tspan x="685" dy="14">LittleNavMap</tspan><tspan x="685" dy="14">database</tspan></text></g>
<g id="n_navigraph"><rect class="r" x="745" y="3075" width="80" height="40"/><text x="785" y="3092">Update by<tspan x="785" dy="14">Navigraph</tspan></text></g>
<g id="n_aerosoft"><rect class="r" x="745" y="3135" width="80" height="40"/><text x="785" y="3152">Update by<tspan x="785" dy="14">Aerosoft</tspan></text></g>

<g id="n_metar"><rect class="r" x="245" y="3555" width="80" height="40"/><text x="285" y="3565">Fetch real<tspan x="285" dy="14">METAR for</tspan><tspan x="285" dy="14">location</tspan></text></g>
<g id="n_userwx"><rect class="r" x="345" y="3555" width="80" height="40"/><text x="385" y="3572">User-defined<tspan x="385" dy="14">weather</tspan></text></g>
<g id="n_intermetar"><rect class="r" x="445" y="3555" width="80" height="80"/><text x="485" y="3571">Generate<tspan x="485" dy="14">intermediate</tspan><tspan x="485" dy="14">METAR for</tspan><tspan x="485" dy="14">smootth</tspan><tspan x="485" dy="14">transitions</tspan></text></g>

<g id="n_gates1"><rect class="g" x="245" y="3755" width="80" height="40"/><text x="285" y="3765">Assign<tspan x="285" dy="14">random gates</tspan><tspan x="285" dy="14">to airliners</tspan></text></g>
<g id="n_gates2"><rect class="y" x="245" y="3815" width="80" height="40"/><text x="285" y="3825">Assign gates<tspan x="285" dy="14">by aircraft</tspan><tspan x="285" dy="14">category</tspan></text></g>
<g id="n_gates3"><rect class="r" x="245" y="3875" width="80" height="40"/><text x="285" y="3892">Assign gates<tspan x="285" dy="14">by airline</tspan></text></g>
<g id="p_airlineops"><polygon class="r" points="372,3755 438,3755 405,3812"/><text x="405" y="3772">Airline<tspan x="405" dy="14">Ops</tspan></text></g>
<g id="n_mvt"><rect class="r" x="365" y="3875" width="80" height="40"/><text x="405" y="3885">Exchange<tspan x="405" dy="14">MVT between</tspan><tspan x="405" dy="14">airports</tspan></text></g>
<g id="n_reserve"><rect class="r" x="365" y="3935" width="80" height="40"/><text x="405" y="3952">Reserve gates<tspan x="405" dy="14">for arrivals</tspan></text></g>
<g id="n_depart"><rect class="r" x="365" y="3995" width="80" height="40"/><text x="405" y="4005">AI Airliners<tspan x="405" dy="14">Depart</tspan><tspan x="405" dy="14">to Next Leg</tspan></text></g>

<g id="n_smartveh"><rect class="k" x="470" y="3875" width="80" height="40"/><text x="510" y="3885">Smart<tspan x="510" dy="14">Ground</tspan><tspan x="510" dy="14">Vehicles</tspan></text></g>
<g id="n_ghi"><rect class="k" x="575" y="3875" width="80" height="40"/><text x="615" y="3885">Ground<tspan x="615" dy="14">Handling</tspan><tspan x="615" dy="14">Integrations</tspan></text></g>
<g id="n_gaw"><rect class="k" x="675" y="3875" width="80" height="40"/><text x="715" y="3885">Ground<tspan x="715" dy="14">Agent</tspan><tspan x="715" dy="14">Workflow</tspan></text></g>
<g id="n_simbrief"><rect class="k" x="795" y="3875" width="80" height="40"/><text x="835" y="3885">Generate<tspan x="835" dy="14">SimBrief.com</tspan><tspan x="835" dy="14">OFP</tspan></text></g>
<g id="n_airlineproc"><rect class="k" x="895" y="3875" width="80" height="40"/><text x="935" y="3885">Load Airline<tspan x="935" dy="14">Procedure</tspan><tspan x="935" dy="14">Specifications</tspan></text></g>
<g id="n_betterpush"><rect class="k" x="465" y="3935" width="90" height="40"/><text x="510" y="3952">Automated<tspan x="510" dy="14">BetterPushback</tspan></text></g>
<g id="n_gvuser"><rect class="k" x="575" y="3935" width="80" height="40"/><text x="615" y="3945">Ground<tspan x="615" dy="14">Vehicles</tspan><tspan x="615" dy="14">for User A/C</tspan></text></g>
<g id="n_intercom"><rect class="k" x="675" y="3935" width="80" height="40"/><text x="715" y="3945">Ground<tspan x="715" dy="14">Agent</tspan><tspan x="715" dy="14">Intercom</tspan></text></g>
<g id="n_loadsheet"><rect class="k" x="795" y="3935" width="80" height="40"/><text x="835" y="3952">Generate<tspan x="835" dy="14">Load sheet</tspan></text></g>
<g id="n_acceptspec"><rect class="k" x="895" y="3935" width="80" height="40"/><text x="935" y="3945">Accept<tspan x="935" dy="14">Contributed</tspan><tspan x="935" dy="14">Specifications</tspan></text></g>
<g id="n_gvai"><rect class="k" x="575" y="3995" width="80" height="40"/><text x="615" y="4005">Ground<tspan x="615" dy="14">Vehicles</tspan><tspan x="615" dy="14">serving AI A/C</tspan></text></g>
<g id="n_3dchar"><rect class="k" x="675" y="3995" width="80" height="40"/><text x="715" y="4005">Ground<tspan x="715" dy="14">Agent</tspan><tspan x="715" dy="14">3D Character</tspan></text></g>
<g id="n_picsign"><rect class="k" x="795" y="3995" width="80" height="40"/><text x="835" y="4012">PIC Sign Off<tspan x="835" dy="14">Load Sheet</tspan></text></g>

</g>
</svg>
